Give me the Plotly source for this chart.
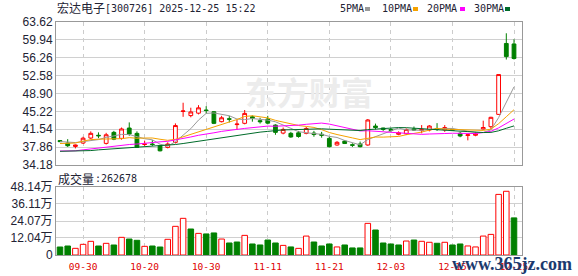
import plotly.graph_objects as go

dates = ["09-25", "09-26", "09-29", "09-30",
         "10-09", "10-10", "10-13", "10-14", "10-15", "10-16", "10-17", "10-20", "10-21", "10-22",
         "10-23", "10-24", "10-27", "10-28", "10-29", "10-30", "10-31",
         "11-03", "11-04", "11-05", "11-06", "11-07", "11-10", "11-11", "11-12", "11-13", "11-14",
         "11-17", "11-18", "11-19", "11-20", "11-21", "11-24", "11-25", "11-26", "11-27", "11-28",
         "12-01", "12-02", "12-03", "12-04", "12-05", "12-08", "12-09", "12-10", "12-11", "12-12",
         "12-15", "12-16", "12-17", "12-18", "12-19", "12-22", "12-23", "12-24", "12-25"]

opens = [39.2, 38.7, 38.0, 38.7, 39.73, 40.3, 38.63, 40.9, 39.66, 41.79,
         40.69, 38.4, 38.5, 38.15, 37.8, 38.84, 45.2, 44.35, 44.85, 45.5,
         45.15, 43.1, 43.7, 42.5, 42.76, 44.1, 43.3, 43.65, 42.4, 40.75,
         40.7, 40.8, 40.7, 40.75, 40.5, 39.66, 38.3, 39.1, 38.35, 38.5,
         38.3, 42.2, 41.8, 41.5, 40.5, 40.6, 41.6, 41.3, 41.38, 41.7,
         41.4, 41.5, 40.7, 40.25, 40.3, 41.6, 42.07, 44.6, 59.2, 59.1]
highs = [39.3, 39.5, 38.4, 40.0, 41.1, 40.9, 40.8, 41.2, 41.9, 42.95,
         41.1, 39.2, 39.3, 38.35, 38.85, 42.75, 47.0, 45.97, 46.5, 46.3,
         45.3, 44.3, 44.3, 43.45, 45.5, 44.4, 43.9, 44.3, 42.55, 41.9,
         41.0, 41.2, 42.0, 41.2, 41.0, 40.0, 39.1, 39.3, 38.65, 39.0,
         43.65, 42.7, 41.85, 41.8, 41.1, 41.7, 42.1, 42.4, 42.4, 42.8,
         42.4, 41.6, 41.0, 40.5, 41.0, 43.3, 44.1, 52.8, 61.3, 60.05]
lows = [38.9, 37.9, 37.6, 38.5, 39.5, 39.7, 38.4, 39.3, 39.4, 40.2,
        37.7, 38.1, 38.1, 36.98, 37.6, 38.6, 44.1, 44.0, 44.6, 44.8,
        42.6, 42.95, 42.95, 41.39, 42.55, 43.1, 42.7, 42.55, 40.4, 40.5,
        39.8, 39.8, 40.5, 40.0, 39.8, 37.8, 38.15, 38.5, 37.9, 37.8,
        38.15, 41.5, 41.2, 40.95, 40.3, 40.35, 41.2, 40.7, 41.1, 41.2,
        41.0, 41.2, 39.9, 39.25, 40.1, 41.5, 41.6, 44.5, 55.9, 55.9]
closes = [39.0, 38.15, 38.3, 39.7, 40.7, 40.2, 40.4, 39.5, 41.6, 40.55,
          37.8, 38.5, 38.4, 37.1, 38.5, 42.3, 45.3, 45.1, 45.95, 45.4,
          42.75, 43.9, 43.6, 42.6, 44.8, 43.8, 43.1, 42.8, 40.9, 41.5,
          39.95, 40.05, 41.7, 40.45, 40.3, 37.95, 38.85, 38.6, 38.25, 37.95,
          43.45, 41.9, 41.5, 41.3, 40.8, 41.5, 41.4, 41.5, 42.2, 41.55,
          41.9, 41.35, 40.15, 40.4, 40.6, 41.9, 44.0, 52.8, 56.5, 56.1]

# volume in units of 万 (10k)
volumes = [5.66, 6.37, 4.72, 7.55, 9.67, 6.37, 8.26, 7.08, 12.5, 11.3,
           10.4, 6.13, 6.37, 5.66, 11.1, 20.3, 25.96, 18.4, 15.3, 14.9,
           15.6, 11.3, 8.5, 9.2, 13.9, 7.8, 7.1, 10.6, 8.5, 6.8,
           5.7, 4.7, 13.4, 9.2, 6.4, 7.8, 5.7, 7.1, 5.0, 5.0,
           22.4, 17.7, 8.5, 7.8, 7.1, 9.9, 10.6, 9.7, 9.0, 8.3,
           9.0, 7.1, 7.8, 6.4, 5.7, 13.4, 14.6, 42.9, 45.1, 26.2678]

ma5 = [39.0, 38.9, 38.8, 39.0, 39.17, 39.41, 39.86, 40.10, 40.48, 40.45,
       39.97, 39.59, 39.37, 38.47, 38.06, 38.96, 40.32, 41.66, 43.43, 44.81,
       44.90, 44.62, 44.32, 43.65, 43.53, 43.74, 43.58, 43.42, 43.08, 42.42,
       41.65, 41.05, 40.82, 40.73, 40.49, 40.08, 39.85, 39.23, 38.79, 38.32,
       39.42, 40.03, 40.61, 41.22, 41.79, 41.40, 41.29, 41.31, 41.49, 41.63,
       41.71, 41.70, 41.43, 41.07, 40.88, 40.88, 41.41, 43.94, 47.16, 50.26]
ma10 = [38.6, 38.6, 38.7, 39.1, 39.4, 39.5, 39.55, 39.55, 39.6, 39.81,
        39.69, 39.73, 39.74, 39.48, 39.26, 39.47, 39.96, 40.52, 40.95, 41.44,
        41.93, 42.47, 42.99, 43.54, 44.17, 44.32, 44.10, 43.87, 43.37, 42.98,
        42.70, 42.31, 42.12, 41.91, 41.46, 40.87, 40.45, 40.03, 39.76, 39.41,
        39.75, 39.94, 39.92, 40.01, 40.06, 40.41, 40.67, 40.96, 41.36, 41.72,
        41.56, 41.51, 41.37, 41.28, 41.26, 41.30, 41.56, 42.69, 44.12, 45.57]
ma20 = [37.05, 37.05, 37.1, 37.3, 37.5, 37.7, 37.85, 38.0, 38.2, 38.4,
        38.5, 38.7, 38.85, 38.95, 39.05, 39.3, 39.6, 39.95, 40.3, 40.62,
        40.81, 41.10, 41.36, 41.51, 41.71, 41.89, 42.03, 42.19, 42.16, 42.21,
        42.32, 42.39, 42.56, 42.72, 42.81, 42.60, 42.27, 41.95, 41.56, 41.19,
        41.23, 41.13, 41.02, 40.96, 40.76, 40.64, 40.56, 40.49, 40.56, 40.56,
        40.66, 40.72, 40.65, 40.64, 40.66, 40.86, 41.11, 41.82, 42.74, 43.64]
ma30 = [37.0, 37.0, 37.05, 37.1, 37.15, 37.3, 37.4, 37.5, 37.6, 37.7,
        37.8, 37.9, 38.0, 38.1, 38.25, 38.4, 38.6, 38.85, 39.1, 39.35,
        39.55, 39.8, 40.0, 40.25, 40.5, 40.75, 40.95, 41.1, 41.3, 41.41,
        41.44, 41.50, 41.62, 41.64, 41.63, 41.55, 41.50, 41.47, 41.36, 41.27,
        41.46, 41.57, 41.68, 41.82, 41.89, 41.86, 41.74, 41.62, 41.49, 41.37,
        41.34, 41.25, 41.14, 41.06, 40.92, 40.86, 40.89, 41.22, 41.74, 42.23]

price_ticks = [34.18, 37.86, 41.54, 45.22, 48.90, 52.58, 56.26, 59.94, 63.62]
vol_ticks = [0, 12.04, 24.07, 36.11, 48.14]
vol_tick_text = ["0", "12.04万", "24.07万", "36.11万", "48.14万"]
date_ticks = ["09-30", "10-20", "10-30", "11-11", "11-21", "12-03", "12-15", "12-25"]

title_name = "宏达电子"
title_info = "[300726] 2025-12-25 15:22"
vol_label = "成交量"
vol_value = ":262678"
ma_names = ["5PMA", "10PMA", "20PMA", "30PMA"]

RED = "#ff0000"
GREEN = "#008000"
MA_COLORS = ["#999999", "#f5a200", "#ff00ff", "#006b2a"]
TXT = "#222233"

W, H = 578, 276
L, R, T, B = 56, 56, 22, 21
PW, PH = W - L - R, H - T - B


def px(x):
    return (x - L) / PW


def py(y):
    return (H - B - y) / PH


fig = go.Figure()

fig.add_trace(go.Candlestick(
    x=dates, open=opens, high=highs, low=lows, close=closes,
    increasing=dict(line=dict(color=RED, width=1), fillcolor="#ffffff"),
    decreasing=dict(line=dict(color=GREEN, width=1), fillcolor=GREEN),
    whiskerwidth=0, xaxis="x", yaxis="y", hoverinfo="skip",
))

for vals, col in zip([ma5, ma10, ma20, ma30], MA_COLORS):
    fig.add_trace(go.Scatter(x=dates, y=vals, mode="lines",
                             line=dict(color=col, width=1),
                             xaxis="x", yaxis="y", hoverinfo="skip"))

up = [False] + [closes[i] > closes[i - 1] for i in range(1, len(closes))]
fig.add_trace(go.Bar(
    x=dates, y=volumes, xaxis="x2", yaxis="y2",
    marker=dict(color=["#ffffff" if u else GREEN for u in up],
                line=dict(color=[RED if u else GREEN for u in up], width=1)),
    hoverinfo="skip",
))

main_bottom = py(165)
vol_top = py(187)

xcommon = dict(
    type="category", range=[-0.52, 60.04],
    tickmode="array", tickvals=date_ticks, ticktext=date_ticks,
    showgrid=True, gridcolor="#cccccc", gridwidth=1, griddash="4px,4px",
    showline=True, linecolor="#999999", linewidth=1, mirror=True,
    zeroline=False, fixedrange=True, automargin=False,
)

fig.update_layout(
    width=W, height=H,
    margin=dict(l=L, r=R, t=T, b=B, autoexpand=False),
    paper_bgcolor="#ffffff", plot_bgcolor="#ffffff",
    showlegend=False, bargap=0.28,
    xaxis=dict(**xcommon, domain=[0, 1], anchor="y", showticklabels=False, ticks="",
               rangeslider=dict(visible=False)),
    xaxis2=dict(**xcommon, domain=[0, 1], anchor="y2", matches="x",
                showticklabels=True, ticks="outside", ticklen=3,
                tickcolor="rgba(0,0,0,0)",
                tickfont=dict(family="DejaVu Sans Mono", size=9.5, color="#e00000")),
    yaxis=dict(domain=[main_bottom, 1], range=[price_ticks[0], price_ticks[-1]],
               tickmode="array", tickvals=price_ticks,
               ticktext=["%.2f" % v for v in price_ticks],
               showgrid=True, gridcolor="#d0d0d0", gridwidth=1,
               showline=True, linecolor="#999999", linewidth=1, mirror=True,
               zeroline=False, ticks="", fixedrange=True, automargin=False,
               tickfont=dict(family="Liberation Sans", size=12, color=TXT)),
    yaxis2=dict(domain=[0, vol_top], range=[vol_ticks[0], vol_ticks[-1]],
                tickmode="array", tickvals=vol_ticks, ticktext=vol_tick_text,
                showgrid=True, gridcolor="#d0d0d0", gridwidth=1,
                showline=True, linecolor="#999999", linewidth=1, mirror=True,
                zeroline=False, ticks="", fixedrange=True, automargin=False,
                tickfont=dict(family="Liberation Sans, Noto Sans CJK SC", size=12, color=TXT)),
)

ann = []
# watermark
ann.append(dict(text="<b>东方财富</b>", x=px(309), y=py(91), xref="paper", yref="paper",
                showarrow=False, xanchor="center", yanchor="middle",
                font=dict(family="Noto Sans CJK SC", size=32, color="#ececec")))
# title
ann.append(dict(text=title_name, x=px(55), y=py(8), xref="paper", yref="paper",
                showarrow=False, xanchor="left", yanchor="middle",
                font=dict(family="Noto Sans CJK SC", size=12, color=TXT)))
ann.append(dict(text=title_info, x=px(103), y=py(8.5), xref="paper", yref="paper",
                showarrow=False, xanchor="left", yanchor="middle",
                font=dict(family="DejaVu Sans Mono", size=10, color=TXT)))
# volume label
ann.append(dict(text=vol_label, x=px(56), y=py(178), xref="paper", yref="paper",
                showarrow=False, xanchor="left", yanchor="middle",
                font=dict(family="Noto Sans CJK SC", size=12, color=TXT)))
ann.append(dict(text=vol_value, x=px(93), y=py(178.5), xref="paper", yref="paper",
                showarrow=False, xanchor="left", yanchor="middle",
                font=dict(family="DejaVu Sans Mono", size=10, color=TXT)))
# legend
leg_x = [338, 380, 425, 472]
sq_x = [365, 413, 460, 505]
shapes = []
for name, lx, sx, col in zip(ma_names, leg_x, sq_x, MA_COLORS):
    ann.append(dict(text=name, x=px(lx), y=py(9), xref="paper", yref="paper",
                    showarrow=False, xanchor="left", yanchor="middle",
                    font=dict(family="DejaVu Sans Mono", size=10, color=TXT)))
    shapes.append(dict(type="rect", xref="paper", yref="paper",
                       x0=px(sx), x1=px(sx + 5), y0=py(11), y1=py(7),
                       fillcolor=col, line=dict(width=0)))
# site watermark
ann.append(dict(text="<b>www.365jz.com</b>", x=px(512), y=py(264), xref="paper", yref="paper",
                showarrow=False, xanchor="center", yanchor="middle",
                font=dict(family="Liberation Serif", size=18, color="#1b3a6e")))

fig.update_layout(annotations=ann, shapes=shapes)

fig.write_html("out.html")
